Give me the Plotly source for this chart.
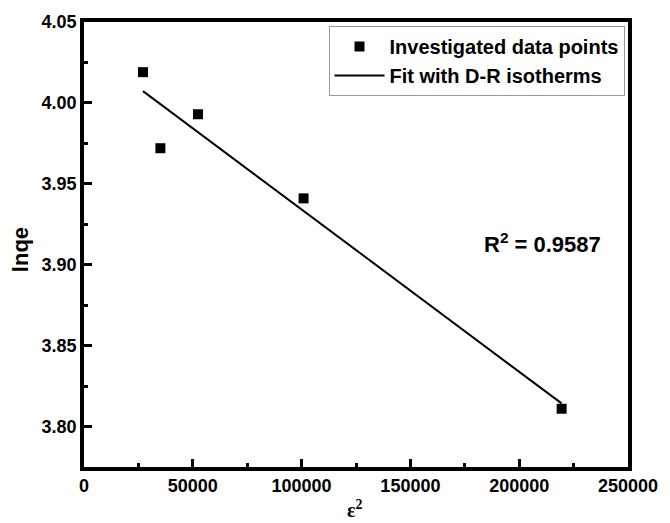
import numpy as np
import plotly.graph_objects as go

# Squared Polanyi potential (x) and ln(qe) (y)
eps_sq = [27100, 35100, 52400, 100900, 219500]
ln_qe = [4.019, 3.972, 3.993, 3.941, 3.811]
r2_text = "<b>R<sup>2</sup> = 0.9587</b>"

x_ticks = [0, 50000, 100000, 150000, 200000, 250000]
y_ticks = [3.80, 3.85, 3.90, 3.95, 4.00, 4.05]

# Linear D-R fit over the measured range
slope, intercept = np.polyfit(eps_sq, ln_qe, 1)
fit_x = [min(eps_sq), max(eps_sq)]
fit_y = [slope * v + intercept for v in fit_x]

FONT = "Liberation Sans, Arial, sans-serif"

# Plot-area geometry in pixels
W, H = 670, 523
L, R, T, B = 84, 32, 22, 56
PW, PH = W - L - R, H - T - B


def px_x(p):
    return (p - L) / PW


def px_y(p):
    return (H - B - p) / PH


fig = go.Figure()
fig.add_trace(go.Scatter(
    x=eps_sq, y=ln_qe, mode="markers",
    marker=dict(symbol="square", size=10, color="black"),
    name="<b>Investigated data points</b>",
))
fig.add_trace(go.Scatter(
    x=fit_x, y=fit_y, mode="lines",
    line=dict(color="black", width=2),
    name="<b>Fit with D-R isotherms</b>",
))

axis_common = dict(
    showgrid=False, zeroline=False,
    showline=True, linecolor="black", linewidth=3.5, mirror=True,
    ticks="inside", ticklen=8, tickwidth=3, tickcolor="black",
    tickfont=dict(family=FONT, size=18, color="black", weight="bold"),
)

fig.update_xaxes(
    range=[0, 250000], tickvals=x_ticks, tickformat="d",
    minor=dict(dtick=25000, ticks="inside", ticklen=4, tickwidth=3, tickcolor="black"),
    **axis_common,
)
fig.update_yaxes(
    range=[3.775, 4.05], tickvals=y_ticks, tickformat=".2f",
    minor=dict(dtick=0.025, ticks="inside", ticklen=4, tickwidth=3, tickcolor="black"),
    **axis_common,
)

fig.update_layout(
    width=W, height=H,
    margin=dict(l=L, r=R, t=T, b=B),
    plot_bgcolor="white", paper_bgcolor="white",
    font=dict(family=FONT, color="black"),
    showlegend=True,
    legend=dict(
        x=px_x(333), y=px_y(26), xanchor="left", yanchor="top",
        bgcolor="white", bordercolor="#999999", borderwidth=1,
        font=dict(family=FONT, size=20, color="black"),
        itemwidth=50, tracegroupgap=0,
    ),
    annotations=[
        dict(text=r2_text, x=px_x(551), y=px_y(243), xref="paper", yref="paper",
             xanchor="center", yanchor="middle", showarrow=False,
             font=dict(family=FONT, size=22, color="black")),
        dict(text="<b>lnqe</b>", x=px_x(20), y=px_y(250), xref="paper", yref="paper",
             textangle=-90, showarrow=False, xanchor="center", yanchor="middle",
             font=dict(family=FONT, size=22, color="black")),
        dict(text="<b>ε<sup>2</sup></b>", x=px_x(360), y=px_y(509), xref="paper", yref="paper",
             showarrow=False, xanchor="center", yanchor="middle",
             font=dict(family="Liberation Serif, Times New Roman, serif", size=20, color="black")),
    ],
)

fig.write_html("out.html")
